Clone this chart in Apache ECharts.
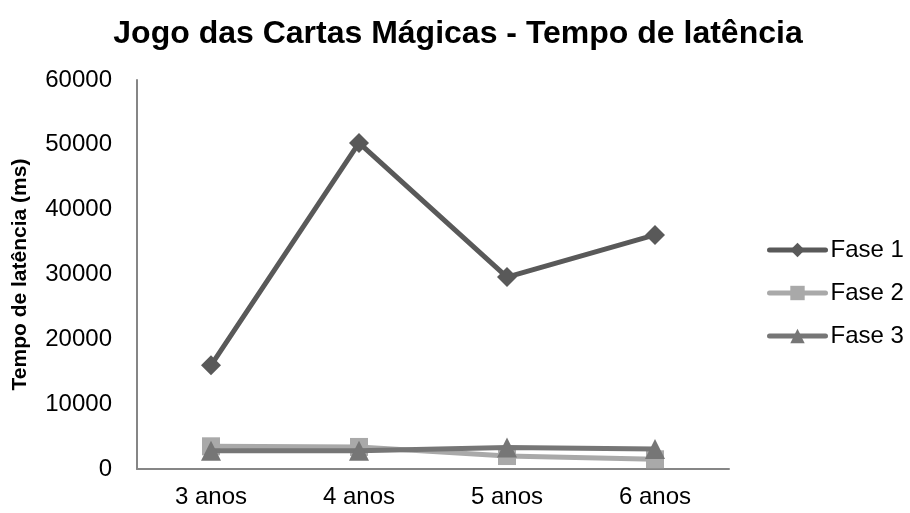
<!DOCTYPE html>
<html>
<head>
<meta charset="utf-8">
<script src="https://cdn.jsdelivr.net/npm/echarts@6/dist/echarts.min.js"></script>
<style>
  html, body { margin: 0; padding: 0; background: #fff; }
  #chart { width: 910px; height: 513px; }
</style>
</head>
<body>
<div id="chart"></div>
<script>
// dados
const categorias = ['3 anos', '4 anos', '5 anos', '6 anos'];
const fase1 = [16000, 50300, 29600, 36100];
const fase2 = [3500, 3400, 2000, 1500];
const fase3 = [2800, 2800, 3300, 3100];

const fonte = 'Liberation Sans, Arial, sans-serif';
const myChart = echarts.init(document.getElementById('chart'));

const serie = (nome, dados, cor, simbolo, tamanho) => ({
    name: nome,
    type: 'line',
    data: dados,
    symbol: simbolo,
    symbolSize: tamanho,
    showAllSymbol: true,
    lineStyle: { color: cor, width: 5, cap: 'round' },
    itemStyle: { color: cor },
    emphasis: { disabled: true },
    z: nome === 'Fase 2' ? 2 : 3
});

let option = {
    animation: false,
    title: {
        text: 'Jogo das Cartas Mágicas - Tempo de latência',
        left: 453,
        textAlign: 'center',
        top: 13,
        textStyle: { fontFamily: fonte, fontSize: 32, fontWeight: 'bold', color: '#000' }
    },
    legend: {
        orient: 'vertical',
        left: 762,
        top: 233,
        itemWidth: 56,
        itemHeight: 18,
        itemGap: 19,
        lineStyle: { width: 5, cap: 'round' },
        textStyle: { fontFamily: fonte, fontSize: 24, color: '#000' },
        data: ['Fase 1', 'Fase 2', 'Fase 3']
    },
    grid: { left: 137, right: 181, top: 80, bottom: 44, outerBoundsMode: 'none' },
    xAxis: {
        type: 'category',
        data: categorias,
        boundaryGap: true,
        axisLine: { lineStyle: { color: '#868686', width: 2 } },
        axisTick: { show: false },
        axisLabel: { fontFamily: fonte, fontSize: 24, color: '#000', margin: 16 }
    },
    yAxis: {
        type: 'value',
        min: 0,
        max: 60000,
        interval: 10000,
        name: 'Tempo de latência (ms)',
        nameLocation: 'middle',
        nameGap: 106,
        nameTextStyle: { fontFamily: fonte, fontSize: 21, fontWeight: 'bold', color: '#000' },
        axisLine: { show: true, lineStyle: { color: '#868686', width: 2 } },
        axisTick: { show: false },
        splitLine: { show: false },
        axisLabel: { fontFamily: fonte, fontSize: 24, color: '#000', margin: 25, formatter: v => String(v) }
    },
    series: [
        serie('Fase 1', fase1, '#595959', 'diamond', 20),
        serie('Fase 2', fase2, '#a9a9a9', 'rect', 18),
        serie('Fase 3', fase3, '#767676', 'triangle', 20)
    ]
};
myChart.setOption(option);
</script>
</body>
</html>
